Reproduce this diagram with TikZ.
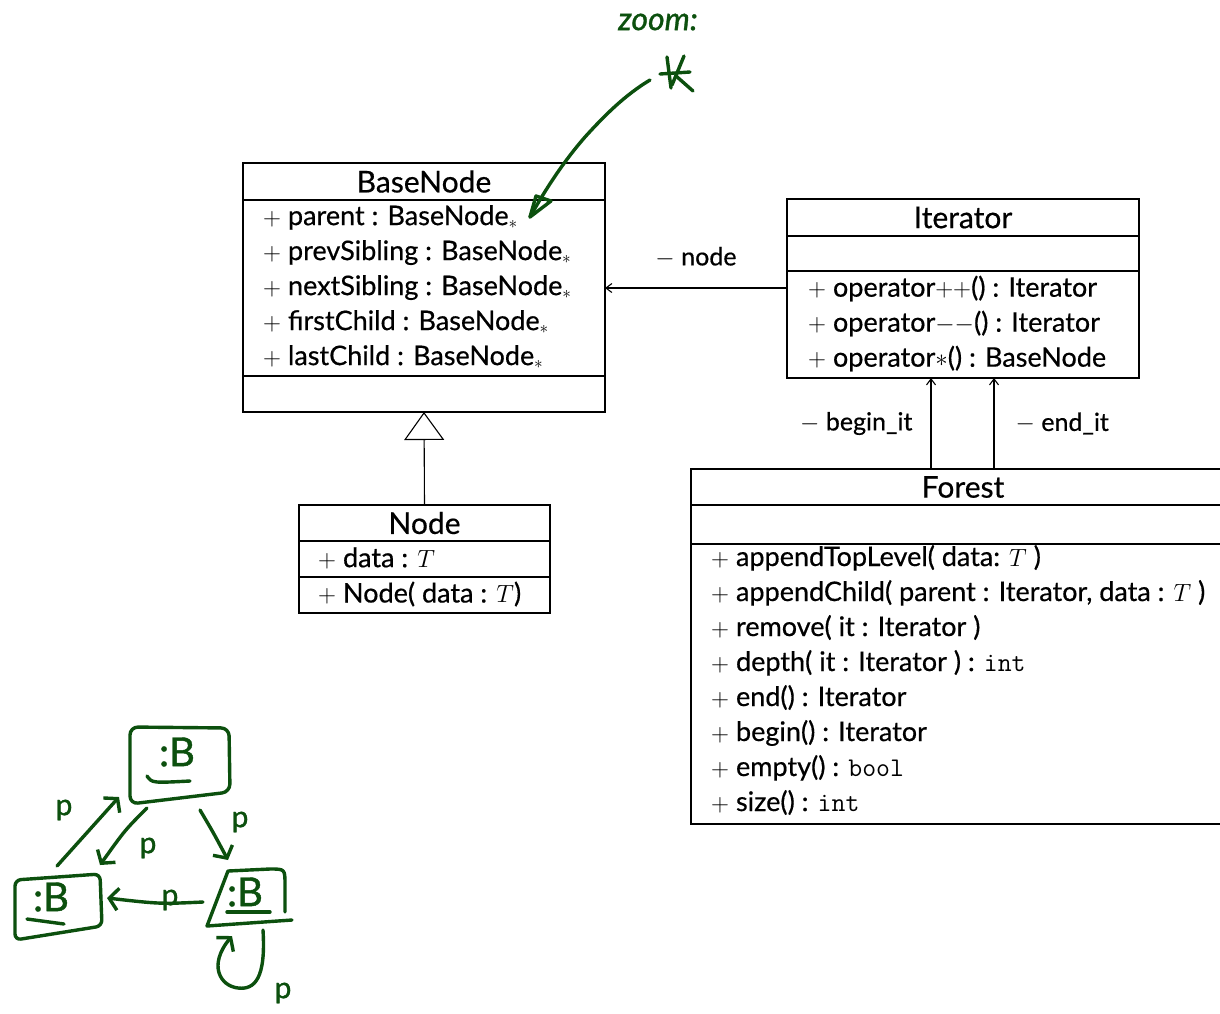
\documentclass[tikz,border=0pt]{standalone}
\usepackage{fontspec}
\setmainfont{Lato}[FakeBold=0.5]
\newfontfamily\penfont{Lato}
\usetikzlibrary{arrows.meta,calc}
\definecolor{hgreen}{RGB}{12,80,14}
\tikzset{
  compartment/.style={draw, line width=2.8pt, anchor=north west, inner sep=0pt, outer sep=0pt},
  classname/.style={font=\fontsize{30}{34}\selectfont},
  members/.style={anchor=west, align=left, inner sep=0pt, font=\fontsize{27}{35}\selectfont},
  assoc/.style={line width=1.1pt, -{Straight Barb[length=6pt,width=9pt]}},
  generalization/.style={line width=1.1pt, -{Triangle[open,length=28pt,width=40pt]}},
  rolelabel/.style={font=\fontsize{25}{28}\selectfont, inner sep=0pt},
  hand/.style={draw=hgreen, line width=3.4pt, line cap=round, line join=round},
  handarrow/.style={hand, -{Straight Barb[length=9pt,width=22pt]}},
  handtext/.style={text=hgreen, inner sep=0pt},
  objname/.style={handtext, font=\penfont\fontsize{40}{40}\selectfont\addfontfeatures{FakeBold=1}},
  linkname/.style={handtext, font=\penfont\fontsize{30}{30}\selectfont\addfontfeatures{FakeBold=1}},
}
\begin{document}
\begin{tikzpicture}[x=1pt,y=-1pt]
\useasboundingbox (0,0) rectangle (1220,1013);
\clip (0,0) rectangle (1220,1013);
\fill[white] (0,0) rectangle (1220,1013);

% ---------- class BaseNode ----------
\node[compartment, classname, minimum width=362pt, minimum height=37pt] (bn-t) at (243,163) {BaseNode};
\node[compartment, minimum width=362pt, minimum height=176pt] (bn-a) at (bn-t.south west) {};
\node[members] (bn-a-text) at ($(bn-a.west)+(20,-1)$) {%
  $+$ parent : BaseNode$_\ast$\\
  $+$ prevSibling : BaseNode$_\ast$\\
  $+$ nextSibling : BaseNode$_\ast$\\
  $+$ firstChild : BaseNode$_\ast$\\
  $+$ lastChild : BaseNode$_\ast$};
\node[compartment, minimum width=362pt, minimum height=36pt] (bn-o) at (bn-a.south west) {};

% ---------- class Iterator ----------
\node[compartment, classname, minimum width=352pt, minimum height=37pt] (it-t) at (787,199) {Iterator};
\node[compartment, minimum width=352pt, minimum height=35pt] (it-a) at (it-t.south west) {};
\node[compartment, minimum width=352pt, minimum height=107pt] (it-m) at (it-a.south west) {};
\node[members] (it-m-text) at ($(it-m.west)+(21,-1)$) {%
  $+$ operator$++$() : Iterator\\
  $+$ operator$--$() : Iterator\\
  $+$ operator$\ast$() : BaseNode};

% ---------- class Forest ----------
\node[compartment, classname, minimum width=544pt, minimum height=36pt] (fo-t) at (691,469) {Forest};
\node[compartment, minimum width=544pt, minimum height=39pt] (fo-a) at (fo-t.south west) {};
\node[compartment, minimum width=544pt, minimum height=280pt] (fo-m) at (fo-a.south west) {};
\node[members] (fo-m-text) at ($(fo-m.west)+(20,-4)$) {%
  $+$ appendTopLevel( data: $T$ )\\
  $+$ appendChild( parent : Iterator, data : $T$ )\\
  $+$ remove( it : Iterator )\\
  $+$ depth( it : Iterator ) : \texttt{int}\\
  $+$ end() : Iterator\\
  $+$ begin() : Iterator\\
  $+$ empty() : \texttt{bool}\\
  $+$ size() : \texttt{int}};

% ---------- class Node ----------
\node[compartment, classname, minimum width=251pt, minimum height=36pt] (nd-t) at (299,505) {Node};
\node[compartment, minimum width=251pt, minimum height=36pt] (nd-a) at (nd-t.south west) {};
\node[members] (nd-a-text) at ($(nd-a.west)+(19,-1)$) {$+$ data : $T$};
\node[compartment, minimum width=251pt, minimum height=36pt] (nd-m) at (nd-a.south west) {};
\node[members] (nd-m-text) at ($(nd-m.west)+(19,-1)$) {$+$ Node( data : $T$)};

% ---------- relations ----------
\draw[generalization] (nd-t.north) -- (bn-o.south);
\draw[assoc] (bn-a.east -| it-m.west) -- node[rolelabel, above=20pt] {$-$ node} (bn-a.east);
\draw[assoc] ([xshift=-32pt]fo-t.north) -- node[rolelabel, left=18pt] {$-$ begin\_it} ([xshift=-32pt]fo-t.north |- it-m.south);
\draw[assoc] ([xshift=31pt]fo-t.north) -- node[rolelabel, right=21pt] {$-$ end\_it} ([xshift=31pt]fo-t.north |- it-m.south);

% ---------- pen annotation: zoom on the pointer ----------
\node[handtext, font=\penfont\fontsize{32}{32}\selectfont\itshape\addfontfeatures{FakeBold=1}] (zoomnote) at (658,22) {zoom:};
\node[inner sep=0pt, minimum size=36pt] (star) at (678,73) {};
\draw[hand] (667,57) -- (671,88);
\draw[hand] (660,74) -- (690,72);
\draw[hand] (684,56) -- (672,85);
\draw[hand] (676,76) -- (693,91);
\coordinate (zoomfrom) at (650,80);
\coordinate (zoomto) at (530,217);
\draw[hand] (zoomfrom) .. controls (625,95) and (605,115) .. (585,137)
  .. controls (565,160) and (548,185) .. (zoomto);
\draw[hand] (zoomto) -- (536,196) -- (551,201) -- cycle;

% ---------- pen sketch: object diagram ----------
\draw[hand, rounded corners=8pt] (130,727) -- (229,728) -- (230,792) -- (130,804) -- cycle;
\node[objname] (b1) at (177,752) {:B};
\draw[hand] (147,776) .. controls (152,783) .. (190,781);

\draw[hand, rounded corners=6pt] (15,880) -- (100,874) -- (102,926) -- (15,940) -- cycle;
\node[objname] (b2) at (51,897) {:B};
\draw[hand] (27,919) -- (64,924);

\draw[hand] (285,912) -- (285,885) .. controls (285,869) .. (270,869) -- (228,871) -- (207,926) -- (292,920);
\node[objname] (b3) at (245,892) {:B};
\draw[hand] (227,912) -- (270,912);

\coordinate (l1s) at (57,866);  \coordinate (l1e) at (119,797);
\coordinate (l2s) at (147,808); \coordinate (l2e) at (100,865);
\coordinate (l3s) at (200,810); \coordinate (l3e) at (228,860);
\coordinate (l4s) at (203,902); \coordinate (l4e) at (107,898);
\coordinate (l5s) at (263,930); \coordinate (l5e) at (232,936);

\draw[handarrow] (l1s) -- (l1e);
\draw[handarrow] (l2s) .. controls (125,830) .. (l2e);
\draw[handarrow] (l3s) .. controls (213,832) .. (l3e);
\draw[handarrow] (l4s) .. controls (160,904) .. (l4e);
\draw[handarrow] (l5s) .. controls (266,978) and (255,990) .. (238,988)
  .. controls (220,986) and (208,965) .. (l5e);

\node[linkname] (p1) at (64,810) {p};
\node[linkname] (p2) at (148,848) {p};
\node[linkname] (p3) at (240,822) {p};
\node[linkname] (p4) at (170,900) {p};
\node[linkname] (p5) at (283,993) {p};
\end{tikzpicture}
\end{document}
